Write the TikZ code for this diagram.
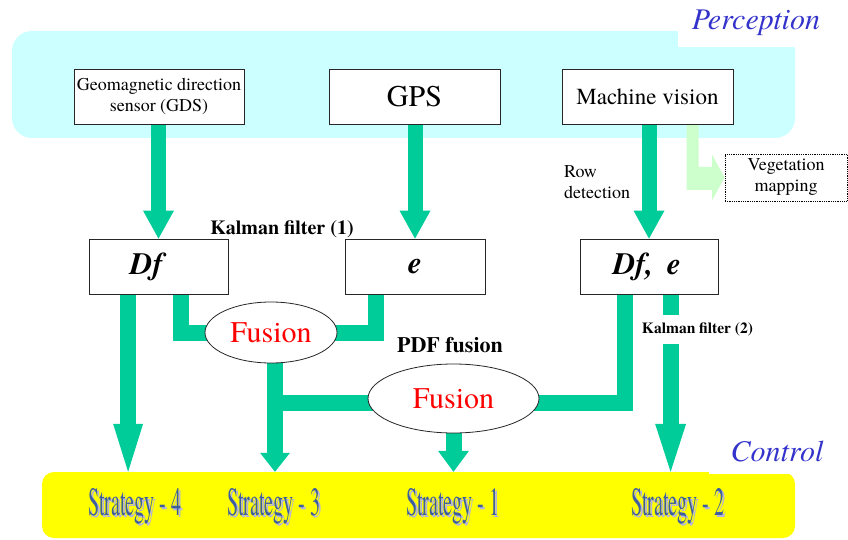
\documentclass[tikz,border=0pt]{standalone}
\usepackage{fontspec}
\setmainfont{texgyretermes}[Extension=.otf, UprightFont=*-regular, BoldFont=*-bold,
  ItalicFont=*-italic, BoldItalicFont=*-bolditalic]
\usetikzlibrary{calc,shapes.geometric}

\definecolor{percbg}{HTML}{CCFFFF}
\definecolor{flowc}{HTML}{00CC99}
\definecolor{vegc}{HTML}{CCFFCC}
\definecolor{ctrlbg}{HTML}{FFFF00}
\definecolor{labblue}{HTML}{3333CC}
\definecolor{fusred}{HTML}{FF0000}
\definecolor{stratc}{HTML}{3D5E9E}
\definecolor{stratsh}{HTML}{B4B4DC}

\pgfdeclarelayer{back}
\pgfdeclarelayer{bars}
\pgfsetlayers{back,bars,main}

\newcommand\fsz[2]{\fontsize{#1}{#2}\selectfont}
% condensed strategy caption with a soft drop shadow
\newcommand\stratlabel[1]{\scalebox{0.5}[1]{\fsz{40}{40}\makebox[0pt][l]{\hspace{4pt}\raisebox{-2.5pt}{\color{stratsh}#1}}#1}}
% fat block arrow: start, tip, shaft width, head half width, head length
\newcommand\blockarrow[5]{%
  \draw[flowc, line width=#3, line cap=butt] #1 -- ($#2+(0,-#5+1)$);
  \fill[flowc] #2 -- ++(-#4,-#5) -- ++(2*#4,0) -- cycle;}

\begin{document}
\begin{tikzpicture}[x=1pt, y=-1pt,
  box/.style={draw=black!85, line width=0.8pt, fill=white, inner sep=0pt, minimum height=55pt},
  fusion/.style={ellipse, draw=black!85, line width=0.8pt, fill=white, inner sep=0pt,
                 text=fusred, font=\fsz{30}{30}},
  bar/.style={draw=flowc, line width=16pt, line cap=butt, line join=miter},
  grouplab/.style={font=\itshape\fsz{30}{30}, text=labblue, inner sep=0pt},
  strat/.style={inner sep=0pt, anchor=base, text=stratc}]
\useasboundingbox (0,0) rectangle (848,540);

% group panels
\begin{pgfonlayer}{back}
  \node[fill=percbg, rounded corners=20pt, minimum width=783pt, minimum height=107pt,
        inner sep=0pt] (perc) at (403.5,84.5) {};
  \fill[white] (678,0) rectangle (848,47);
  \node[fill=ctrlbg, rounded corners=12pt, minimum width=753pt, minimum height=66pt,
        inner sep=0pt] (ctrl) at (418.5,505) {};
  \fill[white] (709,440) rectangle (848,474);
\end{pgfonlayer}

\node[grouplab] (perclab) at (756,23) {Perception};
\node[grouplab] (ctrllab) at (777,452) {Control};

% sensors
\node[box, minimum width=170pt, font=\fsz{18}{21}, align=center] (gds) at (159,96.5)
  {Geomagnetic direction\\sensor (GDS)};
\node[box, minimum width=171pt, font=\fsz{30}{30}] (gps) at (414.5,96.5) {GPS};
\node[box, minimum width=171pt, font=\fsz{23}{23}] (mv) at (647.5,96.5) {Machine vision};

\node[draw, densely dotted, line width=0.8pt, minimum width=122pt, minimum height=47pt,
      inner sep=0pt, align=center, font=\fsz{18}{21}] (veg) at (786,177.5) {Vegetation\\mapping};
\node[anchor=west, align=left, font=\fsz{18}{21}, inner sep=0pt] (rowdet) at (564,182.5)
  {Row\\detection};

% estimated quantities
\node[box, minimum width=139pt, font=\bfseries\itshape\fsz{31}{31}] (dfA) at (158.5,266.5) {Df\kern24pt};
\node[box, minimum width=140pt, font=\bfseries\itshape\fsz{31}{31}] (eA) at (415,266.5) {e};
\node[box, minimum width=138pt, font=\bfseries\itshape\fsz{31}{31}] (dfe) at (649,266.5) {Df,\hspace{6pt} e\kern4pt};

\node[font=\bfseries\fsz{20}{20}, inner sep=0pt] (kf1) at (282,229) {Kalman filter (1)};
\node[font=\bfseries\fsz{22}{22}, inner sep=0pt] (pdf) at (450,345) {PDF fusion};
\node[fill=white, font=\bfseries\fsz{15.5}{15.5}, inner sep=0pt, minimum height=29pt]
  (kf2) at (697.5,329.5) {Kalman filter (2)};

% fusion stages
\node[fusion, minimum width=132pt, minimum height=61pt] (fus1) at (271,332.5) {Fusion};
\node[fusion, minimum width=171pt, minimum height=69pt] (fus2) at (453.5,398.5) {Fusion};

% control strategies
\node[strat] (s4) at (135,515) {\stratlabel{Strategy - 4}};
\node[strat] (s3) at (274,515) {\stratlabel{Strategy - 3}};
\node[strat] (s1) at (453,515) {\stratlabel{Strategy - 1}};
\node[strat] (s2) at (678,515) {\stratlabel{Strategy - 2}};

% data flow
\begin{pgfonlayer}{bars}
  \path (dfA.south west) ++(39.5,0) coordinate (dA1) ++(53,0) coordinate (dA2);
  \path (eA.south west) ++(31,0) coordinate (eA1);
  \path (dfe.south west) ++(45,0) coordinate (de1) ++(46,0) coordinate (de2);
  \path (fus1.center) ++(4,0) coordinate (f1c);
  \coordinate (lvl) at (0,403);
  \path (mv.south) ++(39,0) coordinate (vg1) ++(12,0) coordinate (vg2);

  \blockarrow{(dfA.north |- gds.south)}{(dfA.north)}{15pt}{15.5}{28}
  \blockarrow{(eA.north |- gps.south)}{(eA.north)}{15pt}{15.5}{28}
  \blockarrow{(dfe.north |- mv.south)}{(dfe.north)}{15pt}{15.5}{28}

  \fill[vegc] (vg1) -- (vg2) -- (698.5,167) -- (712,167) -- (712,154.5) -- (veg.west)
    -- (712,200.5) -- (712,190) -- (686.5,190) -- cycle;

  \draw[bar] (dA2) -- (dA2 |- fus1.center) -- (fus1.center);
  \draw[bar] (eA1) -- (eA1 |- fus1.center) -- (fus1.center);
  \draw[bar] (f1c |- lvl) -- (fus2.center |- lvl);
  \draw[bar] (de1) -- (de1 |- lvl) -- (fus2.center |- lvl);

  \blockarrow{(dA1)}{(dA1 |- ctrl.north)}{15.5pt}{15}{48}
  \blockarrow{(f1c)}{(f1c |- ctrl.north)}{16pt}{15}{19}
  \blockarrow{(fus2.center)}{(fus2.center |- ctrl.north)}{16pt}{15.5}{21}
  \blockarrow{(de2)}{(de2 |- ctrl.north)}{16pt}{15.5}{48}
\end{pgfonlayer}
\end{tikzpicture}
\end{document}
